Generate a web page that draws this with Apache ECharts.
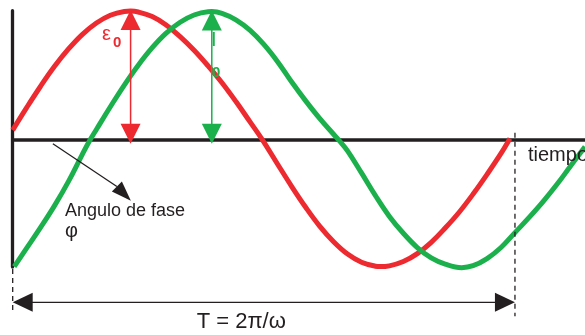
<!DOCTYPE html>
<html><head><meta charset="utf-8">
<script src="https://cdn.jsdelivr.net/npm/echarts@6/dist/echarts.min.js"></script>
<style>html,body{margin:0;padding:0;background:#fff;overflow:hidden}#c{width:585px;height:335px}</style>
</head><body><div id="c"></div>
<script>
// phase ωt in degrees (T = 360°), normalized amplitude
const redPhase = [0, 10, 20, 30, 40, 50, 60, 70, 80, 84.5, 90, 100, 110, 120, 130, 140, 150, 160, 170, 179, 190, 200, 210, 220, 230, 240, 250, 260, 263.3, 270, 280, 290, 300, 310, 320, 330, 340, 350, 356.4];
const redValue = [0.075, 0.248, 0.413, 0.566, 0.700, 0.813, 0.900, 0.960, 0.989, 0.992, 0.985, 0.95, 0.885, 0.795, 0.69, 0.57, 0.44, 0.295, 0.14, 0, -0.19, -0.36, -0.52, -0.665, -0.785, -0.88, -0.943, -0.974, -0.977, -0.971, -0.938, -0.877, -0.79, -0.68, -0.558, -0.418, -0.266, -0.105, 0.01];
const greenPhase = [1.1, 10, 20, 30, 40, 50, 55.5, 60, 70, 80, 90, 100, 110, 120, 130, 140, 142.7, 150, 160, 170, 180, 190, 200, 210, 220, 230, 234.6, 240, 250, 260, 270, 280, 290, 300, 310, 321.8, 330, 340, 350, 360, 370, 380, 390, 400, 410.2];
const greenValue = [-0.977, -0.835, -0.675, -0.507, -0.32, -0.11, 0, 0.08, 0.255, 0.422, 0.575, 0.71, 0.822, 0.906, 0.962, 0.987, 0.988, 0.975, 0.925, 0.845, 0.735, 0.6, 0.445, 0.3, 0.165, 0.043, -0.013, -0.085, -0.255, -0.43, -0.59, -0.72, -0.83, -0.91, -0.958, -0.985, -0.97, -0.915, -0.83, -0.715, -0.60, -0.478, -0.345, -0.2, -0.054];
const period = 360;               // T = 2π/ω
const redPeak = [84.5, 0.992];    // ε0
const greenPeak = [142.7, 0.988]; // I0
const labels = { x: 'tiempo', angle: 'Angulo de fase', phi: 'φ', period: 'T = 2π/ω', red: 'ε', green: 'I', sub: '0' };

const RED = '#ed2a2f', GREEN = '#1bb04c', INK = '#231f20';
const chart = echarts.init(document.getElementById('c'), null, { renderer: 'canvas' });
const zip = (a, b) => a.map((v, i) => [v, b[i]]);
chart.setOption({
  animation: false,
  grid: { left: 12.7, right: 0, top: 10.7, height: 256.3 },
  xAxis: { type: 'value', min: 0, max: 410.2, axisLine: { onZero: true, lineStyle: { color: INK, width: 3.5 } },
           axisTick: { show: false }, axisLabel: { show: false }, splitLine: { show: false } },
  yAxis: { type: 'value', min: -0.98, max: 0.995, axisLine: { show: true, onZero: false, lineStyle: { color: INK, width: 3.3 } },
           axisTick: { show: false }, axisLabel: { show: false }, splitLine: { show: false } },
  series: [
    { type: 'line', data: zip(redPhase, redValue), smooth: 0.4, symbol: 'none', clip: false, lineStyle: { color: RED, width: 5 }, z: 3 },
    { type: 'line', data: zip(greenPhase, greenValue), smooth: 0.4, symbol: 'none', clip: false, lineStyle: { color: GREEN, width: 5 }, z: 3 }
  ]
});

const P = (t, v) => chart.convertToPixel({ gridIndex: 0 }, [t, v]);
const els = [];
function line(a, b, color, w, dash) {
  els.push({ type: 'line', shape: { x1: a[0], y1: a[1], x2: b[0], y2: b[1] }, style: { stroke: color, lineWidth: w, lineDash: dash || null }, z: 10 });
}
function head(tip, ux, uy, len, hw, color) { // u = direction base->tip
  const bx = tip[0] - ux * len, by = tip[1] - uy * len;
  els.push({ type: 'polygon', shape: { points: [tip, [bx - uy * hw, by + ux * hw], [bx + uy * hw, by - ux * hw]] }, style: { fill: color }, z: 11 });
}
function dbl(peak, color) {
  const top = P(peak[0], peak[1]), bot = P(peak[0], 0);
  const tt = [top[0], top[1] - 1], tb = [bot[0], bot[1] + 4];
  line([tt[0], tt[1] + 18], [tb[0], tb[1] - 18], color, 1.5);
  head(tt, 0, -1, 20, 10, color);
  head(tb, 0, 1, 20, 10, color);
}
dbl(redPeak, RED);
dbl(greenPeak, GREEN);

// phase angle pointer
const a0 = P(28.8, -0.03), tip = P(84.7, -0.47);
line(a0, [tip[0] - 14, tip[1] - 14.3], INK, 1.3);
els.push({ type: 'polygon', shape: { points: [tip, [tip[0] - 19, tip[1] - 9.3], [tip[0] - 9, tip[1] - 19.3]] }, style: { fill: INK }, z: 11 });

// period marker
const d0a = P(0, -0.98), d0b = P(0, -1.33), d1a = P(period, 0.054), d1b = P(period, -1.36);
line([d0a[0], d0a[1] + 2], d0b, INK, 1.3, [5, 4]);
line(d1a, d1b, INK, 1.3, [5, 4]);
const pl = P(0, -1.252), pr = P(period, -1.252);
line([pl[0] + 19, pl[1]], [pr[0] - 19, pr[1]], INK, 1.3);
head(pl, -1, 0, 20, 9.5, INK);
head(pr, 1, 0, 20, 9.5, INK);

function text(str, x, y, size, color, weight) {
  els.push({ type: 'text', x: x, y: y, style: { text: str, fill: color, font: (weight || 'normal') + ' ' + size + 'px "Liberation Sans", Arial, sans-serif', verticalAlign: 'top', align: 'left' }, z: 12 });
}
text(labels.x, 528, 145, 20, INK);
text(labels.angle, 65, 202.5, 18, INK);
text(labels.phi, 65, 221, 20, INK);
text(labels.period, 196.7, 311.3, 22, INK);
text(labels.red, 102, 24, 20, RED);
text(labels.sub, 113, 35, 15, RED, 'bold');
text(labels.green, 211, 30, 20, GREEN);
text(labels.sub, 212, 65, 15, GREEN, 'bold');

chart.setOption({ graphic: { elements: els } });
</script>
</body></html>
